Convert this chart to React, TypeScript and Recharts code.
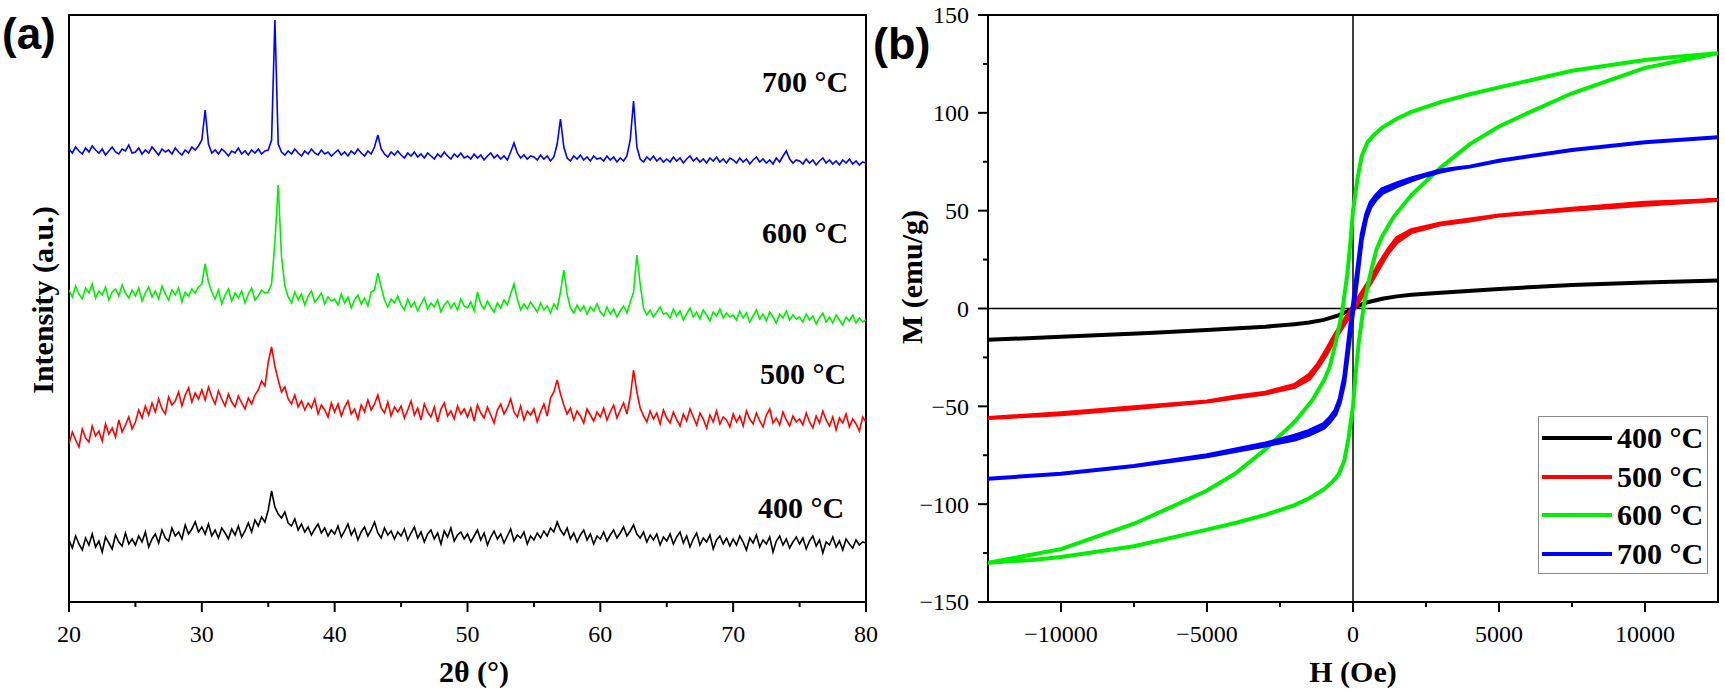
import React from 'react';
import { LineChart, Line, XAxis, YAxis, ReferenceArea, ReferenceLine, Legend } from 'recharts';

const SERIF = '"Liberation Serif", "Times New Roman", serif';
const SANS = '"Liberation Sans", Arial, sans-serif';

// XRD scans, 2θ = 20–80° in 0.25° steps, stacked intensities (a.u.)
const xrd700 = [
  453, 449, 455, 451, 448, 454, 450, 456, 452, 449, 453, 447, 451, 455, 450, 448, 453, 451, 457, 449,
  450, 454, 448, 452, 449, 455, 451, 447, 453, 450, 452, 448, 454, 450, 447, 452, 449, 455, 452, 456,
  462, 492, 458, 449, 452, 448, 453, 450, 446, 451, 449, 454, 448, 451, 447, 452, 449, 453, 448, 451,
  452, 462, 582, 458, 450, 447, 451, 448, 453, 449, 446, 451, 448, 453, 449, 447, 452, 448, 450, 446,
  449, 452, 447, 450, 446, 451, 448, 453, 449, 446, 451, 448, 455, 467, 453, 448, 445, 450, 447, 451,
  447, 444, 449, 446, 450, 445, 448, 444, 449, 446, 443, 448, 445, 450, 446, 443, 448, 445, 449, 444,
  446, 443, 448, 444, 447, 442, 446, 449, 444, 447, 443, 446, 442, 450, 459, 449, 444, 447, 443, 446,
  445, 442, 447, 443, 446, 441, 445, 458, 483, 455, 444, 441, 446, 443, 447, 442, 445, 441, 446, 443,
  444, 441, 446, 442, 445, 440, 444, 441, 446, 462, 501, 455, 443, 440, 445, 442, 446, 441, 444, 440,
  443, 440, 445, 441, 444, 439, 443, 446, 441, 444, 440, 443, 439, 444, 441, 445, 440, 443, 439, 444,
  442, 439, 444, 440, 443, 438, 442, 445, 440, 443, 439, 442, 438, 444, 440, 446, 451, 443, 439, 442,
  441, 438, 443, 439, 442, 437, 441, 444, 439, 442, 438, 441, 437, 442, 439, 443, 438, 441, 437, 440,
  439,
];

const xrd600 = [
  312, 305, 316, 308, 303, 314, 309, 318, 304, 311, 307, 315, 302, 310, 313, 306, 317, 309, 304, 312,
  306, 314, 301, 309, 315, 305, 311, 303, 316, 308, 302, 312, 307, 314, 300, 310, 306, 313, 309, 315,
  318, 338, 320, 310, 303, 312, 298, 307, 313, 301, 309, 304, 311, 299, 308, 314, 302, 306, 312, 309,
  310, 318, 360, 417, 345, 316, 305, 299, 310, 302, 308, 297, 306, 311, 300, 304, 309, 298, 305, 301,
  303, 297, 308, 299, 305, 294, 302, 307, 298, 304, 296, 310, 312, 329, 315, 302, 295, 303, 299, 306,
  297, 292, 303, 295, 300, 291, 298, 304, 293, 299, 295, 302, 290, 297, 301, 294, 299, 292, 303, 296,
  294, 300, 291, 310, 298, 293, 301, 295, 290, 299, 294, 302, 297, 308, 318, 303, 292, 298, 293, 300,
  295, 290, 299, 292, 296, 289, 298, 293, 310, 332, 308, 294, 289, 297, 291, 296, 288, 295, 291, 298,
  290, 286, 295, 288, 293, 285, 291, 296, 289, 300, 310, 347, 318, 294, 287, 292, 285, 290, 295, 288,
  289, 284, 293, 286, 291, 282, 288, 294, 285, 290, 283, 292, 287, 281, 290, 286, 293, 284, 289, 285,
  287, 282, 291, 284, 289, 280, 286, 292, 283, 288, 281, 290, 285, 279, 288, 284, 291, 282, 287, 283,
  285, 280, 288, 282, 286, 278, 284, 289, 280, 285, 279, 287, 282, 277, 285, 281, 287, 279, 284, 280,
  282,
];

const xrd500 = [
  158, 170, 162, 155, 173, 164, 160, 176, 166, 171, 161, 178, 168, 174, 165, 182, 170, 177, 185, 173,
  180, 192, 184, 196, 187, 199, 190, 203, 193, 188, 205, 197, 201, 210, 196, 207, 214, 200, 209, 203,
  212, 202, 215, 205, 198, 211, 203, 196, 208, 200, 195, 206, 199, 193, 204, 198, 207, 212, 221, 216,
  240, 255, 236, 222, 210, 215, 203, 198, 207, 195, 201, 192, 199, 194, 203, 188, 197, 192, 185, 199,
  190, 198, 186, 195, 201, 188, 193, 183, 197, 190, 202, 192, 198, 207, 194, 189, 200, 186, 195, 190,
  196, 184, 192, 201, 187, 194, 182, 198, 190, 185, 195, 180, 193, 199, 186, 191, 183, 196, 188, 193,
  185, 194, 181, 197, 189, 184, 195, 187, 179, 192, 198, 188, 194, 203, 190, 185, 196, 182, 191, 187,
  193, 180, 190, 198, 186, 204, 210, 222, 208, 197, 188, 194, 182, 191, 186, 179, 193, 187, 181, 190,
  185, 194, 182, 190, 197, 184, 192, 199, 188, 205, 232, 210, 194, 186, 180, 191, 183, 189, 178, 192,
  184, 179, 190, 182, 176, 188, 181, 193, 185, 177, 189, 183, 174, 187, 180, 191, 178, 185, 182, 175,
  188, 180, 186, 176, 191, 183, 178, 189, 181, 175, 187, 193, 179, 184, 177, 190, 182, 176, 186, 180,
  183, 177, 189, 180, 174, 186, 179, 191, 182, 176, 185, 172, 184, 179, 188, 175, 183, 178, 171, 185,
  180,
];

const xrd400 = [
  62, 54, 66, 58, 52, 64, 57, 68, 55, 61, 50, 65, 59, 53, 67, 60, 56, 69, 58, 63,
  57, 66, 60, 70, 55, 63, 68, 59, 72, 64, 61, 74, 66, 70, 63, 77, 68, 73, 80, 70,
  75, 68, 78, 66, 72, 64, 74, 69, 63, 73, 67, 76, 65, 71, 79, 70, 82, 76, 85, 80,
  92, 111, 95, 88, 84, 90, 79, 76, 83, 72, 78, 70, 75, 67, 73, 78, 69, 74, 66, 72,
  68, 76, 65, 71, 78, 67, 73, 62, 70, 75, 66, 72, 80, 69, 64, 74, 67, 71, 63, 70,
  66, 73, 62, 69, 75, 64, 70, 60, 68, 72, 63, 69, 58, 71, 65, 74, 61, 67, 70, 63,
  68, 60, 66, 72, 62, 69, 57, 65, 71, 63, 68, 59, 66, 73, 61, 67, 64, 70, 58, 66,
  62, 69, 64, 71, 66, 74, 70, 80, 72, 67, 74, 63, 69, 60, 67, 72, 62, 68, 58, 66,
  63, 70, 61, 67, 72, 64, 69, 75, 66, 71, 77, 68, 64, 70, 60, 67, 62, 68, 57, 65,
  61, 68, 58, 65, 70, 59, 66, 55, 63, 69, 57, 64, 60, 67, 53, 62, 66, 58, 64, 56,
  63, 57, 66, 60, 52, 64, 59, 67, 55, 62, 58, 65, 50, 61, 66, 57, 63, 54, 60, 65,
  58, 64, 53, 61, 66, 56, 62, 49, 60, 57, 65, 55, 61, 52, 63, 58, 54, 62, 57, 60,
  59,
];

const twoTheta = xrd400.map((_, i) => 20 + i * 0.25);
const xrdRows = twoTheta.map((t, i) => ({
  t,
  s400: xrd400[i],
  s500: xrd500[i],
  s600: xrd600[i],
  s700: xrd700[i],
}));
const xrdTicks = [20, 25, 30, 35, 40, 45, 50, 55, 60, 65, 70, 75, 80];

// M–H loops: [H (Oe), M (emu/g)], down branch then up branch
const loop400: [number, number][] = [
  [-12500, -16], [-10000, -14.5], [-7000, -12.5], [-5000, -11], [-3000, -9.3], [-2000, -8],
  [-1500, -7.2], [-1000, -5.8], [-500, -3.5], [-200, -1.5], [0, 0], [200, 1.5], [500, 3.2],
  [1000, 5], [1500, 6.2], [2000, 7], [3000, 8], [5000, 10], [7500, 12], [10000, 13.3], [12500, 14.3],
];

const loop500: [number, number][] = [
  [12500, 55.5], [10000, 53], [7500, 50.5], [5000, 47.5], [4000, 45.5], [3000, 43.5], [2000, 40],
  [1500, 36], [1200, 30], [900, 23], [600, 15], [300, 8], [0, 1], [-300, -6], [-600, -13],
  [-900, -21], [-1200, -28.5], [-1500, -34], [-2000, -39], [-3000, -43], [-4000, -45], [-5000, -47.5],
  [-7500, -51], [-10000, -54], [-12500, -56],
  [-10000, -53.5], [-7500, -50.5], [-5000, -47.5], [-4000, -45.5], [-3000, -43.5], [-2000, -40],
  [-1500, -36], [-1200, -30], [-900, -23], [-600, -15], [-300, -8], [0, -1], [300, 6], [600, 13],
  [900, 21], [1200, 28.5], [1500, 34], [2000, 39], [3000, 43], [4000, 45], [5000, 47.5],
  [7500, 51], [10000, 54], [12500, 55.5],
];

const loop600: [number, number][] = [
  [12500, 130.5], [11000, 128.5], [10000, 127], [7500, 121.5], [5000, 113], [4000, 109.5],
  [3000, 105.5], [2000, 100.5], [1500, 97], [1000, 92.5], [700, 88.5], [500, 85], [300, 78],
  [150, 66], [0, 50], [-100, 32], [-200, 17], [-375, -2], [-600, -18], [-800, -30], [-1000, -37],
  [-1400, -47], [-2000, -58], [-3000, -72], [-4000, -84], [-5000, -93], [-6000, -100],
  [-7500, -110], [-10000, -123], [-12500, -130],
  [-11000, -128.5], [-10000, -127], [-7500, -121.5], [-5000, -113], [-4000, -109.5],
  [-3000, -105.5], [-2000, -100.5], [-1500, -97], [-1000, -92.5], [-700, -88.5], [-500, -85],
  [-300, -78], [-150, -66], [0, -50], [100, -32], [200, -17], [375, 2], [600, 18], [800, 30],
  [1000, 37], [1400, 47], [2000, 58], [3000, 72], [4000, 84], [5000, 93], [6000, 100],
  [7500, 110], [10000, 123], [12500, 130.5],
];

const loop700: [number, number][] = [
  [12500, 87.5], [10000, 85], [7500, 81], [5000, 75.5], [4000, 72.5], [3500, 71.5], [3000, 70.5],
  [2500, 68.5], [2000, 66.5], [1500, 64], [1000, 61], [800, 58], [600, 54], [450, 48], [300, 38],
  [150, 20], [0, 2], [-150, -16], [-300, -35], [-450, -46], [-600, -52], [-800, -56], [-1000, -59],
  [-1500, -62.5], [-2000, -65], [-3000, -69], [-5000, -75], [-7500, -80.5], [-10000, -84.5],
  [-12500, -87],
  [-10000, -84.5], [-7500, -80.5], [-5000, -75.5], [-3000, -70], [-2000, -67], [-1500, -64.5],
  [-1000, -61], [-800, -58], [-600, -54], [-450, -48], [-300, -38], [-150, -20], [0, -2],
  [150, 16], [300, 35], [450, 46], [600, 52], [800, 56], [1000, 59], [1500, 62.5], [2000, 65.5],
  [2500, 68], [3000, 70], [3500, 71.5], [4000, 72.5], [5000, 75.5], [7500, 81], [10000, 85],
  [12500, 87.5],
];

const hTicks = [-10000, -7500, -5000, -2500, 0, 2500, 5000, 7500, 10000];
const mTicks = [-150, -125, -100, -75, -50, -25, 0, 25, 50, 75, 100, 125, 150];

const loops = [
  { name: '400 °C', color: '#000000', points: loop400 },
  { name: '500 °C', color: '#ff0000', points: loop500 },
  { name: '600 °C', color: '#00ee00', points: loop600 },
  { name: '700 °C', color: '#0000ff', points: loop700 },
];

const fmt = (v: number) => (v < 0 ? '\u2212' + Math.abs(v) : String(v));

const tickText = { fontFamily: SERIF, fontSize: 24, fill: '#000' };

// bottom axis: long tick + label on majors, short tick on minors
const bottomTick = (majorStep: number) => (props: any) => {
  const { x, y, payload } = props;
  const v = payload.value;
  const major = v % majorStep === 0;
  return (
    <g>
      <line x1={x} x2={x} y1={y} y2={y + (major ? 10 : 5)} stroke="#000" strokeWidth={2} />
      {major && (
        <text x={x} y={y + 40} textAnchor="middle" style={tickText}>
          {fmt(v)}
        </text>
      )}
    </g>
  );
};

const leftTick = (majorStep: number) => (props: any) => {
  const { x, y, payload } = props;
  const v = payload.value;
  const major = v % majorStep === 0;
  return (
    <g>
      <line x1={x - (major ? 10 : 5)} x2={x} y1={y} y2={y} stroke="#000" strokeWidth={2} />
      {major && (
        <text x={x - 19} y={y} dy="0.35em" textAnchor="end" style={tickText}>
          {fmt(v)}
        </text>
      )}
    </g>
  );
};

const LoopLegend = () => (
  <div
    style={{
      width: 170,
      height: 158,
      boxSizing: 'border-box',
      border: '1.5px solid #8a8a8a',
      background: '#fff',
      paddingTop: 2,
    }}
  >
    {loops.map((l) => (
      <div key={l.name} style={{ height: 38.5, display: 'flex', alignItems: 'center' }}>
        <div style={{ width: 70, height: 4, marginLeft: 3, background: l.color, flexShrink: 0 }} />
        <span
          style={{
            marginLeft: 5,
            fontFamily: SERIF,
            fontWeight: 'bold',
            fontSize: 30,
            lineHeight: 1,
            color: '#000',
            whiteSpace: 'nowrap',
          }}
        >
          {l.name}
        </span>
      </div>
    ))}
  </div>
);

const titleStyle = { fontFamily: SERIF, fontWeight: 700, fontSize: 30, fill: '#000' } as const;
const tempStyle = { fontFamily: SERIF, fontWeight: 700, fontSize: 30, fill: '#000' } as const;

export default function App() {
  return (
    <div style={{ position: 'absolute', left: 0, top: 0, width: 1725, height: 692, background: '#fff' }}>
      <div style={{ position: 'absolute', left: 0, top: 0 }}>
        <LineChart width={880} height={692} data={xrdRows} margin={{ top: 15, right: 14, bottom: 30, left: 69 }}>
          <XAxis
            dataKey="t"
            type="number"
            domain={[20, 80]}
            ticks={xrdTicks}
            interval={0}
            height={60}
            tickSize={0}
            tickMargin={0}
            axisLine={false}
            tickLine={false}
            tick={bottomTick(10)}
            allowDataOverflow
          />
          <YAxis type="number" domain={[0, 587]} hide allowDataOverflow />
          <ReferenceArea x1={20} x2={80} y1={0} y2={587} fill="#fff" fillOpacity={0} stroke="#000" strokeWidth={2} />
          <Line dataKey="s400" stroke="#000000" strokeWidth={1.6} dot={false} isAnimationActive={false} />
          <Line dataKey="s500" stroke="#ff0000" strokeWidth={1.6} dot={false} isAnimationActive={false} />
          <Line dataKey="s600" stroke="#00ee00" strokeWidth={1.6} dot={false} isAnimationActive={false} />
          <Line dataKey="s700" stroke="#0000ff" strokeWidth={1.6} dot={false} isAnimationActive={false} />
        </LineChart>
      </div>

      <div style={{ position: 'absolute', left: 880, top: 0 }}>
        <LineChart width={845} height={692} margin={{ top: 15, right: 7, bottom: 30, left: 8 }}>
          <XAxis
            dataKey="h"
            type="number"
            domain={[-12500, 12500]}
            ticks={hTicks}
            interval={0}
            height={60}
            tickSize={0}
            tickMargin={0}
            axisLine={false}
            tickLine={false}
            tick={bottomTick(5000)}
            allowDataOverflow
          />
          <YAxis
            type="number"
            domain={[-150, 150]}
            ticks={mTicks}
            interval={0}
            width={100}
            tickSize={0}
            tickMargin={0}
            axisLine={false}
            tickLine={false}
            tick={leftTick(50)}
            allowDataOverflow
          />
          <ReferenceArea x1={-12500} x2={12500} y1={-150} y2={150} fill="#fff" fillOpacity={0} stroke="#000" strokeWidth={2} />
          <ReferenceLine x={0} stroke="#000" strokeWidth={1.5} />
          <ReferenceLine y={0} stroke="#000" strokeWidth={1.5} />
          {loops.map((l) => (
            <Line
              key={l.name}
              name={l.name}
              data={l.points.map(([h, m]) => ({ h, m }))}
              dataKey="m"
              type="linear"
              stroke={l.color}
              strokeWidth={4}
              dot={false}
              isAnimationActive={false}
            />
          ))}
          <Legend
            layout="vertical"
            align="center"
            verticalAlign="middle"
            content={() => <LoopLegend />}
            wrapperStyle={{ left: 658, top: 416, width: 170, height: 158 }}
          />
        </LineChart>
      </div>

      <svg width={1725} height={692} style={{ position: 'absolute', left: 0, top: 0, pointerEvents: 'none' }}>
        <text x={2} y={49} fontFamily={SANS} fontWeight={700} fontSize={44} fill="#000">(a)</text>
        <text x={873} y={59} fontFamily={SANS} fontWeight={700} fontSize={45} fill="#000">(b)</text>

        <text x={762} y={92} {...tempStyle}>700 °C</text>
        <text x={762} y={243} {...tempStyle}>600 °C</text>
        <text x={760} y={384} {...tempStyle}>500 °C</text>
        <text x={758} y={518} {...tempStyle}>400 °C</text>

        <text x={474} y={682} textAnchor="middle" {...titleStyle}>2θ (°)</text>
        <text x={1353} y={682} textAnchor="middle" {...titleStyle}>H (Oe)</text>
        <text x={53} y={300} textAnchor="middle" transform="rotate(-90 53 300)" {...titleStyle}>Intensity (a.u.)</text>
        <text x={922} y={277} textAnchor="middle" transform="rotate(-90 922 277)" {...titleStyle}>M (emu/g)</text>
      </svg>
    </div>
  );
}
